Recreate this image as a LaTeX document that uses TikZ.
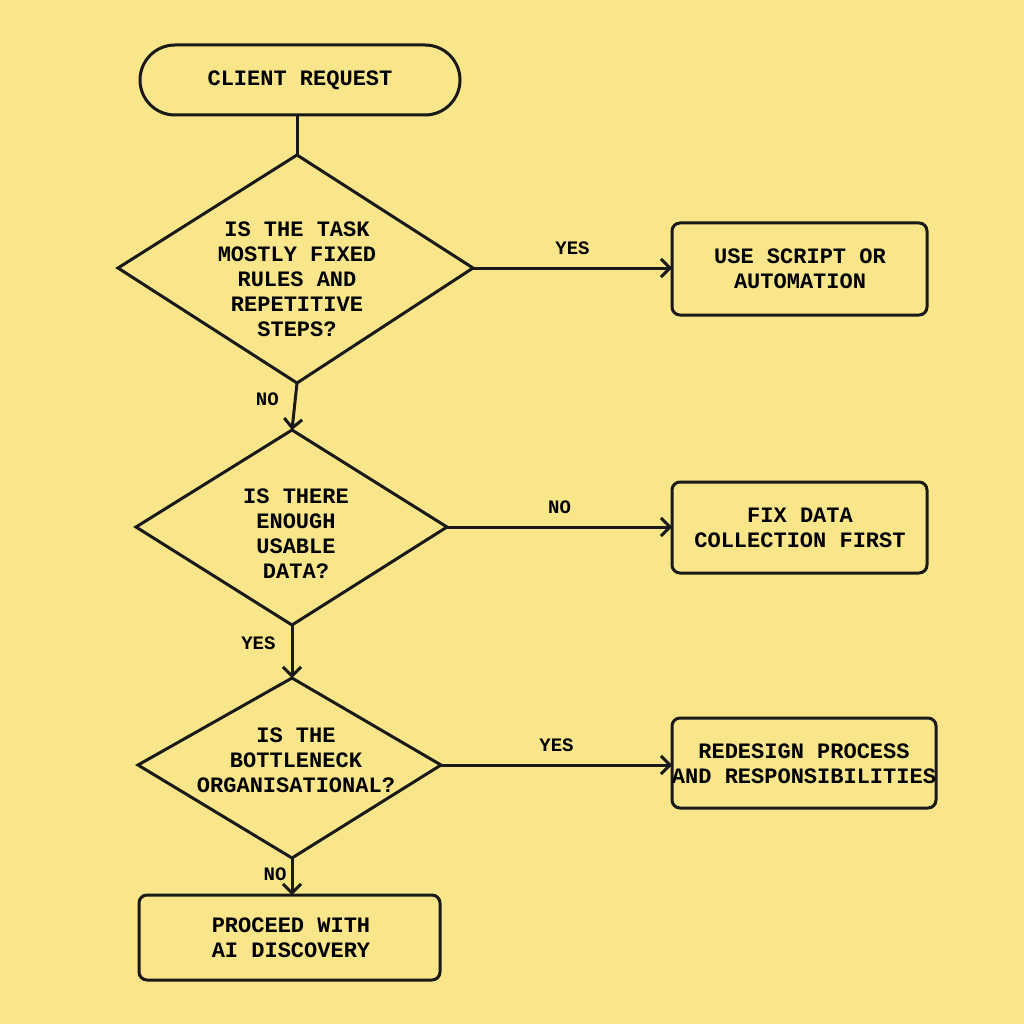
\documentclass[tikz,border=0pt]{standalone}
\usepackage{fontspec}
\setmonofont{Liberation Mono}
\usetikzlibrary{arrows.meta}
\definecolor{bg}{HTML}{F9E68A}
\begin{document}
\begin{tikzpicture}[x=1pt,y=-1pt,
  lw/.style={line width=3pt,draw=black!90},
  txt/.style={font=\ttfamily\bfseries\fontsize{22}{25}\selectfont,align=center,inner sep=0},
  lab/.style={font=\ttfamily\bfseries\fontsize{19}{22}\selectfont,inner sep=0},
  arr/.style={lw,-{Straight Barb[length=9pt,width=18pt,line width=3pt]}},
  boxs/.style={lw,rounded corners=8pt}]
\fill[bg] (0,0) rectangle (1024,1024);
\useasboundingbox (0,0) rectangle (1024,1024);
% start
\draw[lw,rounded corners=35pt] (140,45) rectangle (460,115);
\node[txt] (start) at (300,80) {CLIENT REQUEST};
\coordinate (startb) at (297,115);
% D1
\coordinate (d1t) at (297,155); \coordinate (d1r) at (473,268);
\coordinate (d1b) at (297,383); \coordinate (d1l) at (118,268);
\draw[lw,line join=miter] (d1t)--(d1r)--(d1b)--(d1l)--cycle;
\node[txt] (d1) at (297,279) {IS THE TASK\\MOSTLY FIXED\\RULES AND\\REPETITIVE\\STEPS?};
% D2
\coordinate (d2t) at (292,430); \coordinate (d2r) at (447,527);
\coordinate (d2b) at (292,625); \coordinate (d2l) at (136,527);
\draw[lw] (d2t)--(d2r)--(d2b)--(d2l)--cycle;
\node[txt] (d2) at (296,534) {IS THERE\\ENOUGH\\USABLE\\DATA?};
% D3
\coordinate (d3t) at (292,678); \coordinate (d3r) at (441,765);
\coordinate (d3b) at (292,858); \coordinate (d3l) at (138,765);
\draw[lw] (d3t)--(d3r)--(d3b)--(d3l)--cycle;
\node[txt] (d3) at (296,760) {IS THE\\BOTTLENECK\\ORGANISATIONAL?};
% boxes
\draw[boxs] (672,223) rectangle (927,315);
\node[txt] (b1) at (800,269) {USE SCRIPT OR\\AUTOMATION};
\coordinate (b1l) at (672,268);
\draw[boxs] (672,482) rectangle (927,573);
\node[txt] (b2) at (800,528) {FIX DATA\\COLLECTION FIRST};
\coordinate (b2l) at (672,527);
\draw[boxs] (672,718) rectangle (936,808);
\node[txt] (b3) at (804,764) {REDESIGN PROCESS\\AND RESPONSIBILITIES};
\coordinate (b3l) at (672,765);
\draw[boxs] (139,895) rectangle (440,980);
\node[txt] (b4) at (291,938) {PROCEED WITH\\AI DISCOVERY};
\coordinate (b4t) at (292,895);
% connectors
\draw[lw] (startb)--(d1t);
\draw[arr] (d1r)--(b1l) node[lab,midway,above=12pt] {YES};
\draw[arr] (d1b)--(d2t) node[lab,pos=0.35,left=15pt] {NO};
\draw[arr] (d2r)--(b2l) node[lab,midway,above=12pt] {NO};
\draw[arr] (d2b)--(d3t) node[lab,pos=0.35,left=15pt] {YES};
\draw[arr] (d3r)--(b3l) node[lab,midway,above=12pt] {YES};
\draw[arr] (d3b)--(b4t) node[lab,pos=0.45,left=4pt] {NO};
\end{tikzpicture}
\end{document}
